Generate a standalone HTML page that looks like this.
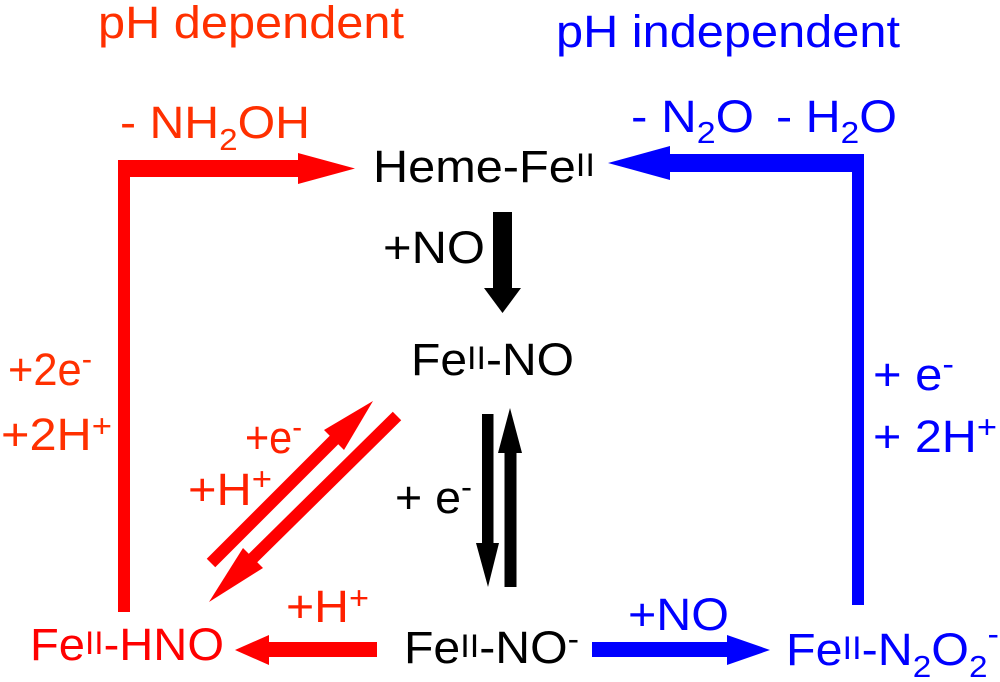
<!DOCTYPE html>
<html>
<head>
<meta charset="utf-8">
<style>
html,body{margin:0;padding:0;background:#fff;}
svg{display:block;}
text{font-family:"Liberation Sans",Arial,sans-serif;font-size:45px;}
</style>
</head>
<body>
<svg width="1000" height="682" viewBox="0 0 1000 682" xmlns="http://www.w3.org/2000/svg">
<rect width="1000" height="682" fill="#fff"/>

<!-- Headers -->
<text x="98" y="38" fill="#ff3000" font-size="46" textLength="306" lengthAdjust="spacingAndGlyphs">pH dependent</text>
<text x="556" y="47" fill="#0000ff" font-size="46" textLength="344" lengthAdjust="spacingAndGlyphs">pH independent</text>

<!-- - NH2OH -->
<text x="120" y="138" fill="#ff3000" textLength="190" lengthAdjust="spacingAndGlyphs">- NH<tspan font-size="31" dy="12">2</tspan><tspan dy="-12">OH</tspan></text>

<!-- - N2O  - H2O -->
<text x="631" y="132" fill="#0000ff" textLength="123" lengthAdjust="spacingAndGlyphs">- N<tspan font-size="31" dy="11">2</tspan><tspan dy="-11">O</tspan></text>
<text x="776" y="132" fill="#0000ff" textLength="121" lengthAdjust="spacingAndGlyphs">- H<tspan font-size="31" dy="11">2</tspan><tspan dy="-11">O</tspan></text>

<!-- Red top connector -->
<rect x="118" y="160" width="12" height="452" fill="#ff0000"/>
<rect x="118" y="160" width="182" height="17" fill="#ff0000"/>
<polygon points="298,153 355,168.5 298,184" fill="#ff0000"/>

<!-- Blue top connector -->
<rect x="852" y="154" width="12" height="451" fill="#0000ff"/>
<rect x="668" y="154" width="196" height="18" fill="#0000ff"/>
<polygon points="670,146 608,163 670,180" fill="#0000ff"/>

<!-- Heme-FeII -->
<text x="373" y="182" fill="#000" textLength="222" lengthAdjust="spacingAndGlyphs">Heme-Fe<tspan font-size="32" dy="-6">II</tspan></text>

<!-- Black down arrow (+NO) -->
<rect x="493" y="212" width="19" height="77" fill="#000"/>
<polygon points="484,288 521,288 502.5,313" fill="#000"/>
<text x="383" y="263" fill="#000" textLength="102" lengthAdjust="spacingAndGlyphs">+NO</text>

<!-- FeII-NO -->
<text x="411" y="375" fill="#000" textLength="163" lengthAdjust="spacingAndGlyphs">Fe<tspan font-size="32" dy="-6">II</tspan><tspan dy="6">-NO</tspan></text>

<!-- Black double arrows -->
<rect x="482" y="414" width="11.5" height="131" fill="#000"/>
<polygon points="476,543 499,543 488,587" fill="#000"/>
<rect x="504.5" y="451" width="12" height="136" fill="#000"/>
<polygon points="498,453 522,453 510,408" fill="#000"/>
<text x="395" y="513" fill="#000" textLength="77" lengthAdjust="spacingAndGlyphs">+ e<tspan font-size="32" dy="-15">-</tspan></text>

<!-- Red diagonal arrows -->
<line x1="211" y1="563" x2="336" y2="438" stroke="#ff0000" stroke-width="12"/>
<polygon points="373,401 344,450 324,430" fill="#ff0000"/>
<line x1="397" y1="416" x2="251" y2="560" stroke="#ff0000" stroke-width="12"/>
<polygon points="209,602 263,568 243,548" fill="#ff0000"/>
<text x="245" y="453" fill="#ff2000" textLength="57" lengthAdjust="spacingAndGlyphs">+e<tspan font-size="32" dy="-15">-</tspan></text>
<text x="188" y="505" fill="#ff2000" textLength="84" lengthAdjust="spacingAndGlyphs">+H<tspan font-size="32" dy="-15">+</tspan></text>

<!-- Left labels -->
<text x="8" y="385" fill="#ff3000" textLength="84" lengthAdjust="spacingAndGlyphs">+2e<tspan font-size="32" dy="-15">-</tspan></text>
<text x="1" y="450" fill="#ff3000" textLength="111" lengthAdjust="spacingAndGlyphs">+2H<tspan font-size="32" dy="-13">+</tspan></text>

<!-- Right labels -->
<text x="873" y="390" fill="#0000ff" textLength="81" lengthAdjust="spacingAndGlyphs">+ e<tspan font-size="32" dy="-15">-</tspan></text>
<text x="873" y="452" fill="#0000ff" textLength="124" lengthAdjust="spacingAndGlyphs">+ 2H<tspan font-size="32" dy="-14">+</tspan></text>

<!-- Bottom row -->
<text x="30" y="660" fill="#ff0000" textLength="194" lengthAdjust="spacingAndGlyphs">Fe<tspan font-size="32" dy="-6">II</tspan><tspan dy="6">-HNO</tspan></text>

<rect x="267" y="642" width="110" height="15" fill="#ff0000"/>
<polygon points="269,635 235,650 269,665" fill="#ff0000"/>
<text x="286" y="622" fill="#ff2000" textLength="83" lengthAdjust="spacingAndGlyphs">+H<tspan font-size="32" dy="-13">+</tspan></text>

<text x="404" y="663" fill="#000" textLength="175" lengthAdjust="spacingAndGlyphs">Fe<tspan font-size="32" dy="-6">II</tspan><tspan dy="6">-NO</tspan><tspan font-size="32" dy="-13">-</tspan></text>

<rect x="592" y="642" width="137" height="15" fill="#0000ff"/>
<polygon points="727,635 770,650 727,665" fill="#0000ff"/>
<text x="628" y="630" fill="#0000ff" textLength="101" lengthAdjust="spacingAndGlyphs">+NO</text>

<text x="786" y="665" fill="#0000ff" textLength="213" lengthAdjust="spacingAndGlyphs">Fe<tspan font-size="32" dy="-6">II</tspan><tspan dy="6">-N</tspan><tspan font-size="31" dy="12">2</tspan><tspan dy="-12">O</tspan><tspan font-size="31" dy="12">2</tspan><tspan font-size="32" dy="-32">-</tspan></text>
</svg>
</body>
</html>
